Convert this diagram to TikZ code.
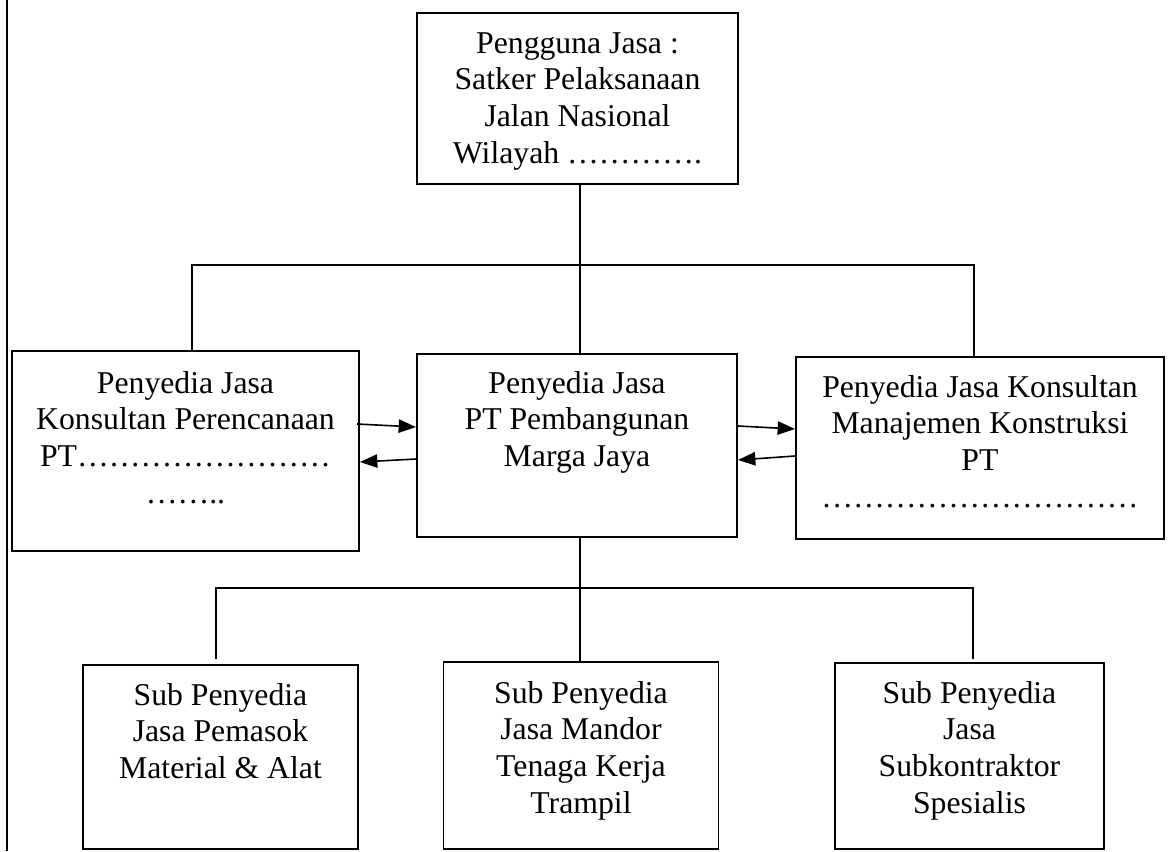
\documentclass[tikz,border=0pt]{standalone}
\usepackage{fontspec}
\setmainfont{Liberation Serif}
\usetikzlibrary{calc,arrows.meta}
\newcommand\bxt[4]{\parbox[c][#2][t]{#1}{\centering\rule{0pt}{#3}#4}}
\newcommand\ee{…}
\tikzset{
  orgbox/.style={draw, line width=1.2pt, inner sep=0pt, outer sep=0pt},
  conn/.style={line width=1.2pt},
  arr/.style={line width=1.2pt, -{Triangle[length=13pt,width=10pt]}},
}
\begin{document}
\begin{tikzpicture}[x=0.75pt,y=-0.75pt]
\useasboundingbox (0,0) rectangle (1175,851);
\fontsize{23.8pt}{27.5pt}\selectfont
% left border line
\draw[line width=1.5pt] (7,0) -- (7,851);
% boxes
\node[orgbox] (T) at (577.5,98.5) {\bxt{240.75pt}{128.25pt}{30pt}{Pengguna Jasa :\\Satker Pelaksanaan\\Jalan Nasional\\Wilayah \ee\ee\ee\ee.}};
\node[orgbox] (M) at (577,445.5) {\bxt{240pt}{137.25pt}{29.25pt}{Penyedia Jasa\\PT Pembangunan\\Marga Jaya}};
\node[orgbox] (L) at (185.5,451) {\bxt{260.25pt}{150pt}{31.5pt}{Penyedia Jasa\\Konsultan Perencanaan\\PT\ee\ee\ee\ee\ee\ee\ee\ee\\\ee\ee..}};
\node[orgbox] (R) at (980,448) {\bxt{276pt}{136.5pt}{30pt}{Penyedia Jasa Konsultan\\Manajemen Konstruksi\\PT\\\ee\ee\ee\ee\ee\ee\ee\ee\ee\ee}};
\node[orgbox] (B1) at (220.5,757) {\bxt{206.25pt}{138pt}{30pt}{Sub Penyedia\\Jasa Pemasok\\Material \& Alat}};
\node[orgbox] (B2) at (581,755.5) {\bxt{206pt}{140.25pt}{30.75pt}{Sub Penyedia\\Jasa Mandor\\Tenaga Kerja\\Trampil}};
\node[orgbox] (B3) at (969.5,756) {\bxt{201.75pt}{139.5pt}{30pt}{Sub Penyedia\\Jasa\\Subkontraktor\\Spesialis}};
% connector coordinates
\coordinate (sp) at (580,0);
\coordinate (hl) at (192,265);
\coordinate (hr) at (974,265);
\coordinate (bl) at (216,588);
\coordinate (br) at (973,588);
% upper tree
\draw[conn] (T.south -| sp) -- (M.north -| sp);
\draw[conn] (L.north -| hl) -- (hl) -- (hr) -- (R.north -| hr);
% lower tree
\draw[conn] (M.south -| sp) -- (B2.north -| sp);
\draw[conn] ($(B1.north -| bl)+(0,-6)$) -- (bl) -- (br) -- ($(B3.north -| br)+(0,-4)$);
% arrows
\draw[arr] ($(L.east)+(-2,-27)$) -- ($(M.west)+(-1,-18.5)$);
\draw[arr] ($(M.west)+(-1,13.5)$) -- ($(L.east)+(1,11)$);
\draw[arr] ($(M.east)+(1,-19.5)$) -- ($(R.west)+(-1,-19)$);
\draw[arr] ($(R.west)+(-1,8)$) -- ($(M.east)+(1,14.5)$);
\end{tikzpicture}
\end{document}
